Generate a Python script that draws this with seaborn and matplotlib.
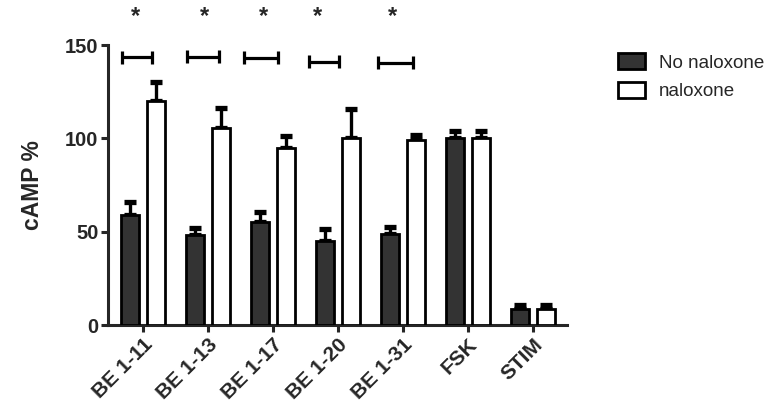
import pandas as pd
import numpy as np
import matplotlib
matplotlib.use('Agg')
import matplotlib.pyplot as plt
import seaborn as sns

# Values
categories = ['BE 1-11', 'BE 1-13', 'BE 1-17', 'BE 1-20', 'BE 1-31', 'FSK', 'STIM']
no_naloxone = [59, 48, 55, 45, 49, 100, 8.5]
no_naloxone_err = [7, 4, 5.5, 6.5, 3.5, 4, 2]
naloxone = [120, 105.5, 95, 100, 99, 100, 8.5]
naloxone_err = [10, 11, 6.5, 15.5, 3, 4, 2]

# significance brackets (left/right offset from category centre, height)
sig_groups = ['BE 1-11', 'BE 1-13', 'BE 1-17', 'BE 1-20', 'BE 1-31']
bracket_left = [-0.33, -0.32, -0.45, -0.45, -0.38]
bracket_right = [0.14, 0.17, 0.08, 0.02, 0.15]
bracket_y = [143.4, 143.8, 143.3, 141.0, 140.6]
star_offset = [-0.11, -0.06, -0.14, -0.31, -0.16]
star_y = 165

df = pd.DataFrame({
    'Group': categories * 2,
    'cAMP': no_naloxone + naloxone,
    'err': no_naloxone_err + naloxone_err,
    'Treatment': ['No naloxone'] * len(categories) + ['naloxone'] * len(categories),
})

sns.set_style('ticks')
plt.rcParams['font.family'] = ['Liberation Sans', 'DejaVu Sans']

fig = plt.figure(figsize=(7.72, 4.08), dpi=100)
ax = fig.add_axes([0.14, 0.2034, 0.5945, 0.6863])

sns.barplot(data=df, x='Group', y='cAMP', hue='Treatment', order=categories,
            palette=['#333333', 'white'], edgecolor='black', linewidth=2.0,
            width=0.8, gap=0.3, errorbar=None, ax=ax, zorder=3)

#Upper error bars only, drawn from the bar tops
bars = [p for p in ax.patches if p.get_height() > 0][:2 * len(categories)]
xs = np.array([p.get_x() + p.get_width() / 2 for p in bars])
tops = np.array([p.get_height() for p in bars])
errs = np.array(df['err'])
ax.errorbar(xs, tops, yerr=[np.zeros_like(errs), errs], fmt='none', ecolor='black',
            elinewidth=2.4, capsize=4, capthick=3.8, zorder=2)

#Brackets and stars
for g, l, r, y, s in zip(sig_groups, bracket_left, bracket_right, bracket_y, star_offset):
    i = categories.index(g)
    ax.hlines(y, i + l, i + r, color='black', lw=2.3, clip_on=False)
    ax.vlines([i + l, i + r], y - 3.5, y + 3.5, color='black', lw=2.3, clip_on=False)
    ax.text(i + s, star_y, '*', ha='center', va='center', fontsize=17,
            fontweight='bold', clip_on=False)

ax.set_xlim(-0.54, 6.53)
ax.set_ylim(0, 150)
ax.set_yticks([0, 50, 100, 150])
ax.set_xlabel('')
ax.set_ylabel('cAMP %', fontsize=16.5, fontweight='bold', labelpad=15)
sns.despine(ax=ax)
for sp in ['left', 'bottom']:
    ax.spines[sp].set_linewidth(2.2)
ax.tick_params(axis='both', width=2.2, length=5, labelsize=14.5, pad=2)
ax.set_xticks(range(len(categories)))
ax.set_xticklabels(categories, rotation=45, ha='right', rotation_mode='anchor',
                   fontweight='bold', fontsize=15)
for t in ax.get_yticklabels():
    t.set_fontweight('bold')

ax.legend(loc='upper left', bbox_to_anchor=(1.074, 1.03), frameon=False, fontsize=13.5,
          handlelength=1.45, handleheight=0.9, labelspacing=0.55, handletextpad=0.75)

plt.savefig('out.png', dpi=100)
